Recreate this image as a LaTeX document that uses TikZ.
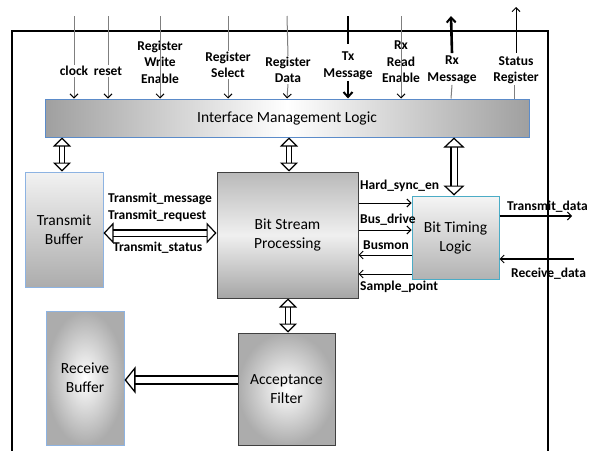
\documentclass[tikz,border=0pt]{standalone}
\usepackage{fontspec}
\setmainfont{Carlito}
\usetikzlibrary{arrows.meta}
\definecolor{bordblue}{HTML}{5B8BC9}
\definecolor{lightblue}{HTML}{8DB3E2}
\definecolor{cyanb}{HTML}{4BACC6}
\definecolor{darkb}{HTML}{404040}
\definecolor{sig}{HTML}{7F7F7F}
\tikzset{
  boxtext/.style={align=center, font=\fontsize{15.5}{19}\selectfont},
  lbl/.style={align=center, inner sep=1pt, font=\bfseries\fontsize{13.5}{16.5}\selectfont},
  sidelbl/.style={inner sep=0pt, font=\bfseries\fontsize{13.5}{16}\selectfont},
  bar/.style={draw=sig, line width=1pt},
  tip/.style={-{Straight Barb[length=4pt,width=8pt,line width=1pt,color=black]}},
  sigarrow/.style={draw=black, line width=1pt, -{Straight Barb[length=4pt,width=8pt,line width=1pt]}},
  fat/.style={draw=black, line width=2.6pt},
  fatarrow/.style={fat, -{Straight Barb[length=5pt,width=9pt,line width=2pt]}},
  hollow/.style={draw=black, double=white, line width=1.2pt, double distance=4.5pt,
     {Triangle[open,length=9pt,width=18pt,line width=1.2pt]}-{Triangle[open,length=9pt,width=18pt,line width=1.2pt]}},
  hollowwide/.style={draw=black, double=white, line width=1.2pt, double distance=5pt,
     {Triangle[open,length=10pt,width=21pt,line width=1.2pt]}-{Triangle[open,length=10pt,width=21pt,line width=1.2pt]}},
  hollowone/.style={draw=black, double=white, line width=1.3pt, double distance=6.5pt,
     -{Triangle[open,length=11pt,width=27pt,line width=1.3pt]}},
}
\begin{document}
\begin{tikzpicture}[x=1pt,y=-1pt]
\useasboundingbox (0,0) rectangle (593,450);
% outer frame
\draw[line width=1.3pt] (12,452) -- (12,31) -- (548,31) -- (548,452);

% blocks
\node[draw=bordblue, line width=1pt, left color=gray!75, right color=gray!75, middle color=white,
      minimum width=484pt, minimum height=38pt, inner sep=0pt] (iml) at (287,118) {};
\node[boxtext] at (iml) {Interface Management Logic};

\node[draw=lightblue, line width=1pt, top color=gray!10, bottom color=gray!65,
      minimum width=78pt, minimum height=115pt, inner sep=0pt, boxtext] (tb) at (64,229.5) {Transmit\\Buffer};

\node[draw=darkb, line width=1pt, top color=gray!55, bottom color=gray!70, middle color=gray!12,
      minimum width=141pt, minimum height=126pt, inner sep=0pt, boxtext] (bsp) at (287.5,235) {Bit Stream\\Processing};

\node[draw=cyanb, line width=1pt, top color=gray!8, bottom color=gray!60,
      minimum width=87pt, minimum height=83pt, inner sep=0pt, boxtext] (btl) at (455.5,237.5) {Bit Timing\\Logic};

\node[draw=lightblue, line width=1pt, inner color=white, outer color=gray!65,
      minimum width=78pt, minimum height=134pt, inner sep=0pt, boxtext] (rb) at (85,378) {Receive\\Buffer};

\node[draw=darkb, line width=1pt, inner color=white, outer color=gray!65,
      minimum width=97pt, minimum height=112pt, inner sep=0pt, boxtext] (af) at (286.5,389) {Acceptance\\Filter};

% top signals
\coordinate (t1) at (74,16);
\coordinate (t2) at (108,16);
\coordinate (t3) at (160,16);
\coordinate (t4) at (228,16);
\coordinate (t5) at (287,16);
\coordinate (t6) at (348,16);
\coordinate (t7) at (401,16);
\coordinate (t8) at (451,16);
\coordinate (t9) at (516,7);

\node[lbl] (l1) at (74,71) {clock};
\node[lbl] (l2) at (108,71) {reset};
\node[lbl] (l3) at (160,62) {Register\\Write\\Enable};
\node[lbl] (l4) at (228,65) {Register\\Select};
\node[lbl] (l5) at (288,70) {Register\\Data};
\node[lbl] (l6) at (348,66) {Tx\\Message};
\node[lbl] (l7) at (401,62) {Rx\\Read\\Enable};
\node[lbl] (l8) at (452,70) {Rx\\Message};
\node[lbl] (l9) at (516,70) {Status\\Register};

\draw[bar] (t1) -- (l1.north);
\draw[bar, tip] (l1.south) -- (iml.north -| t1);
\draw[bar] (t2) -- (l2.north);
\draw[bar, tip] (l2.south) -- (iml.north -| t2);
\draw[bar, tip] (t3) -- (iml.north -| t3);
\draw[bar] (t4) -- (l4.north);
\draw[bar, tip] (l4.south) -- (iml.north -| t4);
\draw[bar] (t5) -- (l5.north);
\draw[bar, tip] (l5.south) -- (iml.north -| t5);
\draw[fat] (t6) -- ([yshift=7pt]l6.north);
\draw[fatarrow] (l6.south) -- (iml.north -| t6);
\draw[bar, tip] (t7) -- (iml.north -| t7);
\draw[fatarrow] ([yshift=2pt]l8.north) -- (t8);
\draw[bar] (iml.north -| t8) -- (l8.south);
\draw[sigarrow] ([yshift=2pt]l9.north) -- (t9);
\draw[bar] ([xshift=-2pt]iml.north -| t9) -- ([xshift=-2pt]l9.south);

% internal hollow arrows
\draw[hollow] (iml.south -| 62,0) -- (tb.north -| 62,0);
\draw[hollow] (iml.south -| 289,0) -- (bsp.north -| 289,0);
\draw[hollowwide] (iml.south -| 454,0) -- (btl.north -| 454,0);
\draw[hollowwide] (tb.east |- 0,233) -- (bsp.west |- 0,233);
\draw[hollow] (bsp.south -| 288,0) -- (af.north -| 288,0);
\draw[hollowone] (af.west |- 0,380) -- (rb.east |- 0,380);

\node[sidelbl, anchor=west] (tm) at (108,199) {Transmit\_message};
\node[sidelbl, anchor=west] (tr) at (108,216) {Transmit\_request};
\node[sidelbl, anchor=west] (ts) at (113,248) {Transmit\_status};

% BSP <-> BTL signals
\draw[sigarrow] (bsp.east |- 0,203) -- (btl.west |- 0,203);
\draw[sigarrow] (bsp.east |- 0,230) -- (btl.west |- 0,230);
\draw[sigarrow] (btl.west |- 0,255) -- (bsp.east |- 0,255);
\draw[sigarrow] (btl.west |- 0,274) -- (bsp.east |- 0,274);
\node[sidelbl, anchor=west] (hs) at (360,186) {Hard\_sync\_en};
\node[sidelbl, anchor=west] (bd) at (360,220) {Bus\_drive};
\node[sidelbl, anchor=west] (bm) at (363,245) {Busmon};
\node[sidelbl, anchor=west] (sp) at (360,287) {Sample\_point};

% external data
\coordinate (txd) at (572,216);
\coordinate (rxd) at (574,259);
\draw[sigarrow, line width=1.4pt] (btl.east |- txd) -- (txd);
\draw[sigarrow, line width=1.4pt] (rxd) -- (btl.east |- rxd);
\node[sidelbl, anchor=west] (tdl) at (507,207) {Transmit\_data};
\node[sidelbl, anchor=west] (rdl) at (511,274) {Receive\_data};
\end{tikzpicture}
\end{document}
